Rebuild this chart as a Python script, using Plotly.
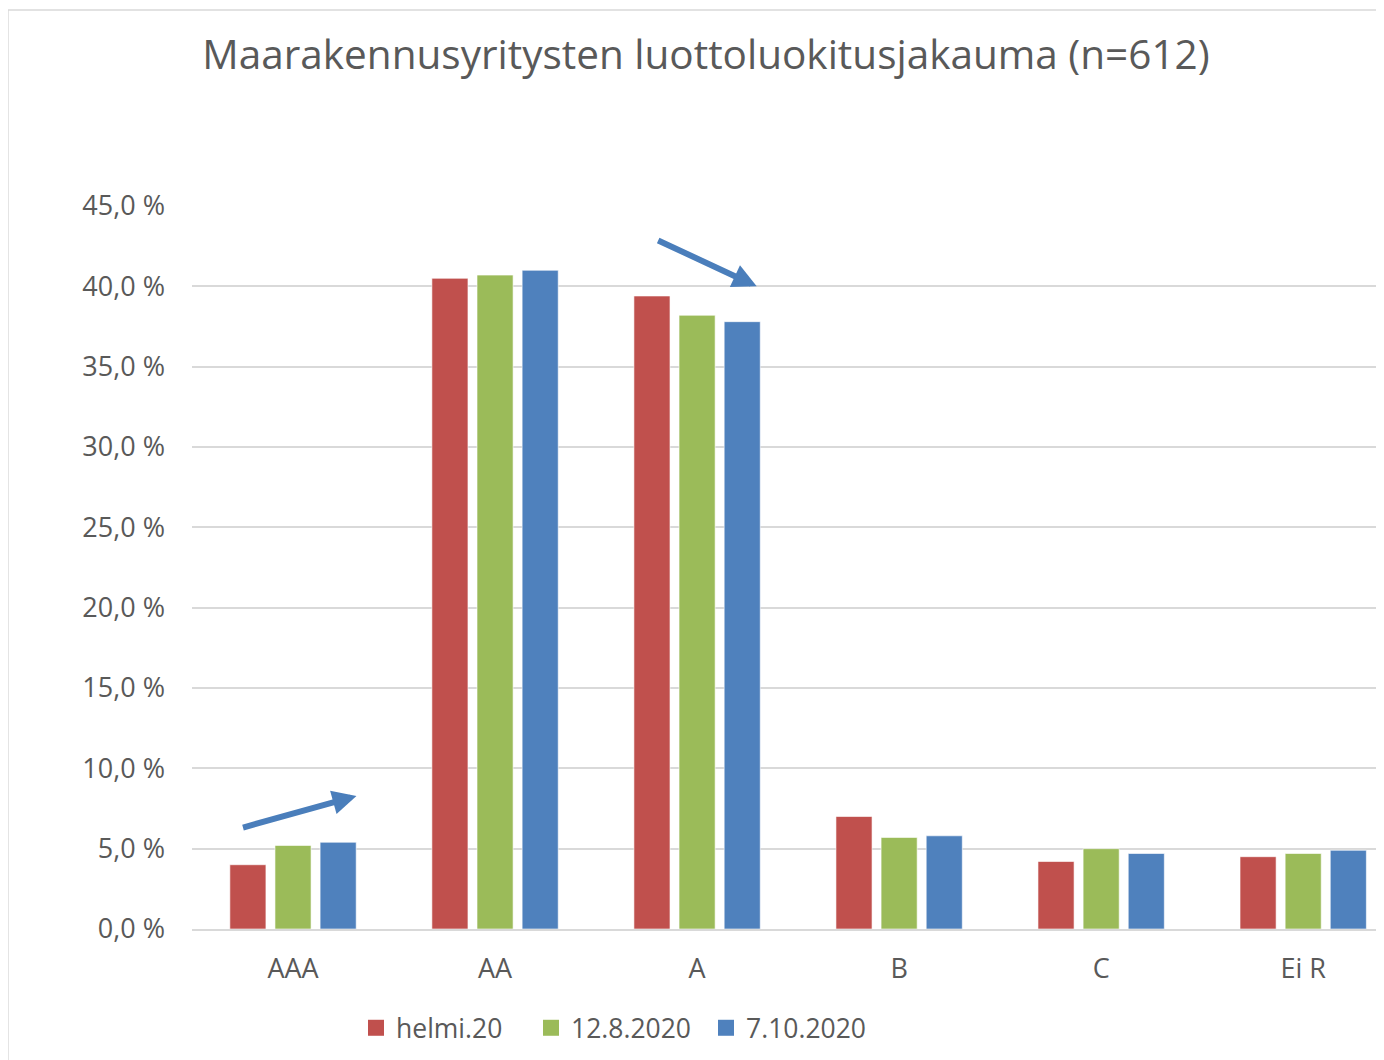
import plotly.graph_objects as go

categories = ["AAA", "AA", "A", "B", "C", "Ei R"]
series_names = ["helmi.20", "12.8.2020", "7.10.2020"]
helmi20 = [4.0, 40.5, 39.4, 7.0, 4.2, 4.5]
aug2020 = [5.2, 40.7, 38.2, 5.7, 5.0, 4.7]
oct2020 = [5.4, 41.0, 37.8, 5.8, 4.7, 4.9]
colors = ["#C0504D", "#9BBB59", "#4F81BD"]
y_ticks = [0, 5, 10, 15, 20, 25, 30, 35, 40, 45]
y_tick_labels = ["0,0 %", "5,0 %", "10,0 %", "15,0 %", "20,0 %", "25,0 %",
                 "30,0 %", "35,0 %", "40,0 %", "45,0 %"]

FONT = "Open Sans"
TXT = "#595959"
W, H = 1376, 1052

fig = go.Figure()
for name, vals, col in zip(series_names, [helmi20, aug2020, oct2020], colors):
    fig.add_trace(go.Bar(
        x=categories, y=vals, name=name, showlegend=False, legendgroup=name,
        marker=dict(color=col, line=dict(color="rgba(255,255,255,0.6)", width=1)),
    ))
# legend entries with larger square swatches
for name, col in zip(series_names, colors):
    fig.add_trace(go.Scatter(
        x=[None], y=[None], mode="markers", name=name, legendgroup=name,
        marker=dict(symbol="square", size=16, color=col),
    ))

# arrows (trend indicators)
arrow_col = "#4A7EBB"
fig.add_annotation(x=0.314, y=8.28, ax=-0.255, ay=6.29, xref="x", yref="y",
                   axref="x", ayref="y", showarrow=True, text="",
                   arrowhead=2, arrowsize=0.8, arrowwidth=6, arrowcolor=arrow_col)
fig.add_annotation(x=2.295, y=40.0, ax=1.80, ay=42.9, xref="x", yref="y",
                   axref="x", ayref="y", showarrow=True, text="",
                   arrowhead=2, arrowsize=0.8, arrowwidth=6, arrowcolor=arrow_col)

# outer chart frame
fig.add_shape(type="rect", xref="paper", yref="paper",
              x0=-0.1544, x1=1.05, y0=-0.2, y1=1.271,
              line=dict(color="#D9D9D9", width=1.5), fillcolor="rgba(0,0,0,0)", layer="below")

fig.update_layout(
    width=W, height=H,
    margin=dict(l=184, r=0, t=198, b=131),
    paper_bgcolor="white", plot_bgcolor="white",
    barmode="group", bargap=0.33, bargroupgap=0.2,
    title=dict(text="Maarakennusyritysten luottoluokitusjakauma (n=612)",
               x=698 / W, xref="container", xanchor="center",
               y=1 - 47 / H, yref="container", yanchor="middle",
               font=dict(family=FONT, size=40.5, color=TXT)),
    font=dict(family=FONT, color=TXT),
    legend=dict(orientation="h", x=0.1376, xanchor="left", y=-0.137, yanchor="middle",
                font=dict(family=FONT, size=26.5, color=TXT), traceorder="normal",
                itemwidth=30, entrywidth=130, entrywidthmode="pixels", itemsizing="trace"),
    xaxis=dict(range=[-0.5, 5.40], showgrid=False, showline=True, linecolor="#D9D9D9",
               linewidth=1.5, ticks="", tickfont=dict(family=FONT, size=27, color=TXT),
               ticklabelstandoff=15),
    yaxis=dict(range=[0, 45], tickvals=y_ticks, ticktext=y_tick_labels,
               showgrid=True, gridcolor="#D9D9D9", gridwidth=1.5, zeroline=False,
               showline=False, ticks="", tickfont=dict(family=FONT, size=27, color=TXT),
               ticklabelstandoff=26),
    showlegend=True,
)

fig.write_html("out.html")
